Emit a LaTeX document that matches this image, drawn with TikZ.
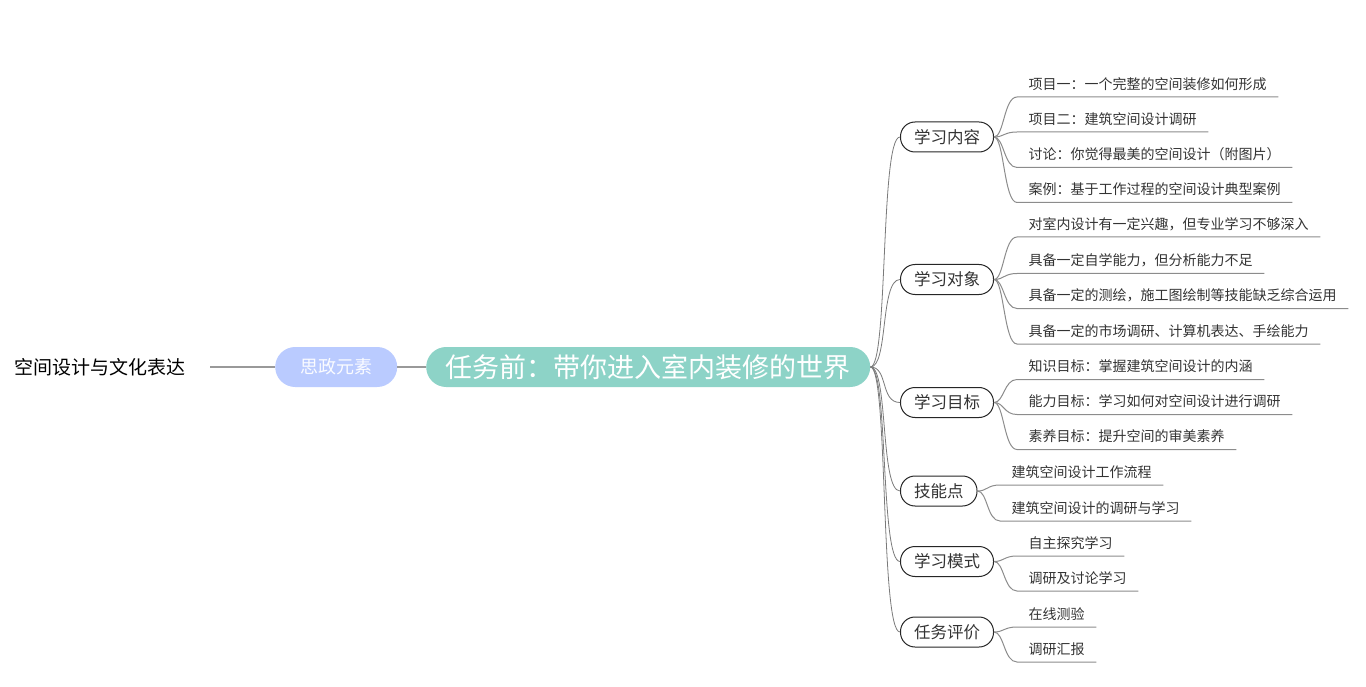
\documentclass[tikz,border=0pt]{standalone}
\usepackage{fontspec}
\setmainfont{Noto Sans CJK SC}
\definecolor{centerfill}{HTML}{8DD3C7}
\definecolor{szfill}{HTML}{BACBFF}
\definecolor{txt}{HTML}{333333}
\definecolor{lnk}{HTML}{7A7A7A}
\definecolor{leafln}{HTML}{8C8C8C}
\begin{document}
\begin{tikzpicture}[x=1pt,y=-1pt,
  titletext/.style={font=\fontsize{19}{21}\selectfont, text=black, inner sep=0pt},
  szbox/.style={fill=szfill, draw=none, rounded corners=20pt, minimum width=122pt, minimum height=40pt, inner sep=0pt, text=white!95!szfill, font=\fontsize{18}{20}\selectfont},
  centerbox/.style={fill=centerfill, draw=none, rounded corners=20pt, minimum width=444pt, minimum height=40pt, inner sep=0pt, text=white, font=\fontsize{27}{30}\selectfont},
  branch/.style={draw=black!85, line width=1pt, fill=white, rounded corners=14.5pt, minimum height=30pt, inner xsep=13.5pt, inner ysep=0pt, text=txt, font=\fontsize{16.5}{18}\selectfont},
  leaf/.style={inner xsep=11.5pt, inner ysep=4.6pt, text height=10pt, text depth=3pt, text=txt, font=\fontsize{14}{15}\selectfont, anchor=south west},
  mainlink/.style={draw=lnk, line width=0.8pt},
  leafline/.style={draw=leafln, line width=1pt},
  toplink/.style={draw=black!40, line width=1.3pt}
]
\useasboundingbox (0,0) rectangle (1366,687);

\node[titletext, anchor=west] (title) at (14,367) {空间设计与文化表达};
\coordinate (tend) at (210,367);
\node[szbox, anchor=west] (sz) at (275,367) {思政元素};
\node[centerbox, anchor=west] (c) at (426,367) {任务前：带你进入室内装修的世界};
\draw[toplink] (tend) -- (sz.west);
\draw[toplink] (sz.east) -- (c.west);

% branches
\node[branch, anchor=west] (b1) at (900,137) {学习内容};
\node[branch, anchor=west] (b2) at (900,279.5) {学习对象};
\node[branch, anchor=west] (b3) at (900,402.5) {学习目标};
\node[branch, anchor=west] (b4) at (900,491) {技能点};
\node[branch, anchor=west] (b5) at (900,561.5) {学习模式};
\node[branch, anchor=west] (b6) at (900,632) {任务评价};

\foreach \b in {b1,b2,b3,b4,b5,b6}{
  \draw[mainlink] (c.east) .. controls +(18,0) and +(-20,0) .. (\b.west);
}

% leaves
\node[leaf] (l11) at (1017,97) {项目一：一个完整的空间装修如何形成};
\node[leaf] (l12) at (1017,132) {项目二：建筑空间设计调研};
\node[leaf] (l13) at (1017,167.5) {讨论：你觉得最美的空间设计（附图片）};
\node[leaf] (l14) at (1017,202.5) {案例：基于工作过程的空间设计典型案例};

\node[leaf] (l21) at (1017,237) {对室内设计有一定兴趣，但专业学习不够深入};
\node[leaf] (l22) at (1017,273.5) {具备一定自学能力，但分析能力不足};
\node[leaf] (l23) at (1017,308.5) {具备一定的测绘，施工图绘制等技能缺乏综合运用};
\node[leaf] (l24) at (1017,344) {具备一定的市场调研、计算机表达、手绘能力};

\node[leaf] (l31) at (1017,379.5) {知识目标：掌握建筑空间设计的内涵};
\node[leaf] (l32) at (1017,414.5) {能力目标：学习如何对空间设计进行调研};
\node[leaf] (l33) at (1017,449.5) {素养目标：提升空间的审美素养};

\node[leaf] (l41) at (1000,485) {建筑空间设计工作流程};
\node[leaf] (l42) at (1000,521) {建筑空间设计的调研与学习};

\node[leaf] (l51) at (1017,556) {自主探究学习};
\node[leaf] (l52) at (1017,591) {调研及讨论学习};

\node[leaf] (l61) at (1017,627) {在线测验};
\node[leaf] (l62) at (1017,662) {调研汇报};

\foreach \b/\l in {b1/l11,b1/l12,b1/l13,b1/l14,b2/l21,b2/l22,b2/l23,b2/l24,b3/l31,b3/l32,b3/l33,b4/l41,b4/l42,b5/l51,b5/l52,b6/l61,b6/l62}{
  \draw[leafline] (\b.east) .. controls +(10,0) and +(-13,0) .. (\l.south west) -- (\l.south east);
}
\end{tikzpicture}
\end{document}
